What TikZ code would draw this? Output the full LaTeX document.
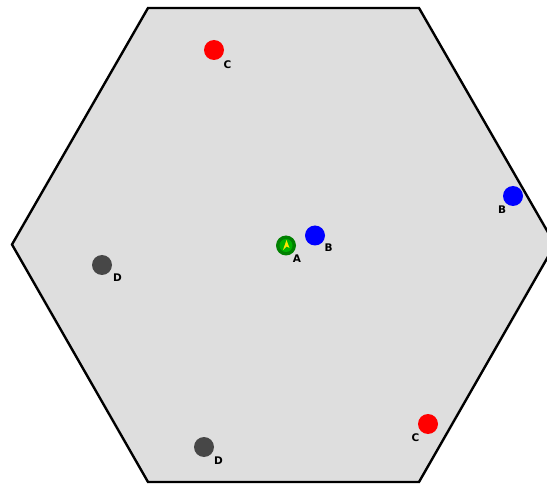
\documentclass[tikz,border=0pt]{standalone}
\usepackage{fontspec}
\setsansfont{DejaVu Sans}
\begin{document}
\begin{tikzpicture}[x=1pt,y=-1pt,
  dot/.style={circle,inner sep=0pt,minimum size=20pt},
  reddot/.style={dot,fill=red},
  bluedot/.style={dot,fill=blue},
  graydot/.style={dot,fill=black!72},
  tag/.style={font=\sffamily\bfseries\fontsize{10.5}{10.5}\selectfont,inner sep=0pt,text=black}]
\useasboundingbox (0,0) rectangle (547,484);
\clip (0,0) rectangle (547,484);
% hexagonal field
\draw[line width=2.4pt,fill=black!13,line join=miter]
  (12,244.5) -- (148,8) -- (419,8) -- (555,244.5) -- (419,482) -- (148,482) -- cycle;
% agent A
\node[circle,inner sep=0pt,minimum size=20pt,fill=green!50!black] (a) at (286,245.5) {};
\node[circle,inner sep=0pt,minimum size=13pt,fill=green!70!black] (ain) at (a) {};
\fill[yellow!90!orange] (283,250) -- (286.5,240) -- (289.5,248) -- (286.5,246.5) -- cycle;
\node[tag] (la) at (297,259) {A};
% landmarks
\node[bluedot] (b1) at (315,235.5) {};
\node[tag] (lb1) at (328.5,247.5) {B};
\node[bluedot] (b2) at (513,196) {};
\node[tag] (lb2) at (502,210) {B};
\node[reddot] (c1) at (214,50) {};
\node[tag] (lc1) at (227.5,65) {C};
\node[reddot] (c2) at (428,424) {};
\node[tag] (lc2) at (415.5,438) {C};
\node[graydot] (d1) at (102,265) {};
\node[tag] (ld1) at (117.5,278) {D};
\node[graydot] (d2) at (204,447) {};
\node[tag] (ld2) at (218.5,461) {D};
\end{tikzpicture}
\end{document}
